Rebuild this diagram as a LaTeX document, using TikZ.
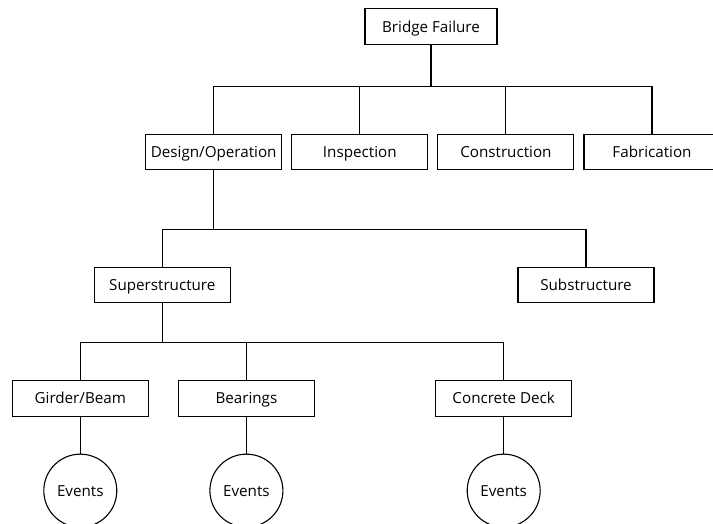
\documentclass[tikz,border=0pt]{standalone}
\usepackage{fontspec}
\setmainfont{Open Sans}
\usetikzlibrary{positioning}

\begin{document}
\begin{tikzpicture}[x=1pt, y=-1pt, line width=1.1pt,
  cause/.style={draw, minimum width=136pt, minimum height=35.5pt, inner sep=0pt, text height=11pt, text depth=0pt, font=\fontsize{15.2}{17}\selectfont},
  evt/.style={draw, circle, minimum size=73pt, inner sep=0pt, text height=11pt, text depth=0pt, font=\fontsize{15.2}{17}\selectfont},
  node distance=9pt]

    \useasboundingbox (0,0) rectangle (713,523);

    \node[cause, minimum width=132pt] (bf) at (431,26.5) {Bridge Failure};

    \node[cause]                   (design) at (213.7,152) {Design/Operation};
    \node[cause, right = of design] (insp)   {Inspection};
    \node[cause, right = of insp]   (constr) {Construction};
    \node[cause, right = of constr] (fab)    {Fabrication};

    \node[cause] (super) at (162.3,284.8) {Superstructure};
    \node[cause] (sub)   at (586,284.8)   {Substructure};

    \node[cause]                     (girder) at (80.3,398.3) {Girder/Beam};
    \node[cause, right = 29pt of girder] (bear) {Bearings};
    \node[cause]                     (deck)   at (503.7,398.3) {Concrete Deck};

    \node[evt, below = 37pt of girder] (ev1) {Events};
    \node[evt, below = 37pt of bear]   (ev2) {Events};
    \node[evt, below = 37pt of deck]   (ev3) {Events};

    \coordinate (bus1) at (0,86.7);
    \coordinate (bus2) at (0,229.5);
    \coordinate (bus3) at (0,342.7);

    \draw (bf.south) -- (bf.south |- bus1);
    \draw (design.north) |- (fab.north |- bus1) -- (fab.north);
    \draw (insp.north) -- (insp.north |- bus1);
    \draw (constr.north) -- (constr.north |- bus1);

    \draw (design.south) -- (design.south |- bus2);
    \draw (super.north) |- (sub.north |- bus2) -- (sub.north);

    \draw (super.south) -- (super.south |- bus3);
    \draw (girder.north) |- (deck.north |- bus3) -- (deck.north);
    \draw (bear.north) -- (bear.north |- bus3);

    \draw (girder) -- (ev1);
    \draw (bear) -- (ev2);
    \draw (deck) -- (ev3);

\end{tikzpicture}
\end{document}
